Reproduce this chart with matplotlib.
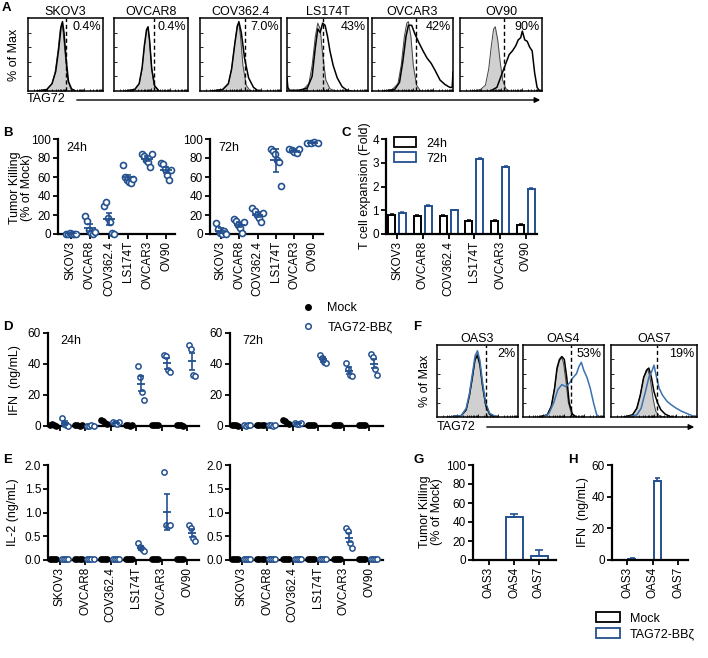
import numpy as np
import matplotlib
matplotlib.use("Agg")
import matplotlib.pyplot as plt
from matplotlib.patches import Patch
from matplotlib.lines import Line2D

plt.rcParams['font.family'] = ['Liberation Sans', 'DejaVu Sans']

W, H = 708, 658
BLUE = '#23508f'
FBLUE = '#3a72ad'
GREY = '#d0d0d0'

# ---------------- data ----------------
cell_lines = ['SKOV3', 'OVCAR8', 'COV362.4', 'LS174T', 'OVCAR3', 'OV90']

# A: flow histograms (normalised channel, % of max)
a_pct = ['0.4%', '0.4%', '7.0%', '43%', '42%', '90%']
a_gate = [0.50, 0.54, 0.55, 0.44, 0.54, 0.54]
a_iso_x = [
    [0.12, 0.25, 0.32, 0.36, 0.40, 0.43, 0.45, 0.47, 0.50, 0.53, 0.57, 0.62],
    [0.15, 0.28, 0.34, 0.38, 0.41, 0.44, 0.46, 0.48, 0.51, 0.54, 0.60],
    [0.15, 0.28, 0.35, 0.39, 0.43, 0.46, 0.48, 0.50, 0.53, 0.57, 0.62],
    [0.10, 0.20, 0.27, 0.31, 0.35, 0.38, 0.41, 0.44, 0.48, 0.53, 0.60],
    [0.15, 0.25, 0.32, 0.36, 0.40, 0.43, 0.45, 0.48, 0.51, 0.55, 0.60],
    [0.15, 0.25, 0.31, 0.35, 0.38, 0.41, 0.43, 0.46, 0.49, 0.52, 0.56, 0.60],
]
a_iso_y = [
    [0, 0.02, 0.10, 0.25, 0.55, 0.85, 0.93, 0.80, 0.45, 0.15, 0.03, 0],
    [0, 0.02, 0.10, 0.30, 0.60, 0.83, 0.86, 0.70, 0.30, 0.08, 0],
    [0, 0.02, 0.10, 0.30, 0.65, 0.90, 0.93, 0.75, 0.35, 0.08, 0],
    [0, 0.02, 0.10, 0.35, 0.75, 0.93, 0.85, 0.50, 0.15, 0.03, 0],
    [0, 0.02, 0.10, 0.35, 0.75, 0.93, 0.95, 0.75, 0.35, 0.08, 0],
    [0, 0.02, 0.08, 0.30, 0.60, 0.85, 0.88, 0.70, 0.40, 0.15, 0.03, 0],
]
a_tag_x = [
    [0.12, 0.25, 0.32, 0.37, 0.41, 0.44, 0.46, 0.48, 0.51, 0.54, 0.58, 0.63],
    [0.15, 0.28, 0.34, 0.38, 0.41, 0.44, 0.46, 0.48, 0.51, 0.55, 0.61],
    [0.15, 0.28, 0.35, 0.39, 0.43, 0.46, 0.48, 0.51, 0.55, 0.60, 0.66, 0.72],
    [0.0, 0.01, 0.03, 0.15, 0.25, 0.31, 0.35, 0.38, 0.41, 0.44, 0.47, 0.50,
     0.53, 0.57, 0.62, 0.68, 0.74, 0.80],
    [0.15, 0.28, 0.34, 0.38, 0.42, 0.45, 0.49, 0.53, 0.58, 0.63, 0.68, 0.73,
     0.78, 0.84, 0.90, 0.96, 0.99, 1.0],
    [0.37, 0.45, 0.50, 0.55, 0.60, 0.64, 0.68, 0.71, 0.74, 0.76, 0.79, 0.82,
     0.85, 0.88, 0.91, 0.94, 0.97],
]
a_tag_y = [
    [0, 0.02, 0.10, 0.27, 0.58, 0.87, 0.95, 0.80, 0.42, 0.13, 0.03, 0],
    [0, 0.02, 0.10, 0.32, 0.62, 0.84, 0.88, 0.70, 0.30, 0.07, 0],
    [0, 0.02, 0.10, 0.30, 0.65, 0.88, 0.95, 0.80, 0.45, 0.18, 0.05, 0],
    [0.18, 0.05, 0.01, 0.01, 0.04, 0.20, 0.60, 0.85, 0.80, 0.93, 0.90, 0.75,
     0.55, 0.35, 0.18, 0.06, 0.01, 0],
    [0, 0.02, 0.12, 0.40, 0.75, 0.90, 0.90, 0.78, 0.66, 0.55, 0.45, 0.38,
     0.28, 0.15, 0.09, 0.05, 0.05, 0.26],
    [0, 0.05, 0.20, 0.35, 0.50, 0.55, 0.62, 0.70, 0.73, 0.82, 0.70, 0.68,
     0.60, 0.55, 0.25, 0.05, 0],
]

# B: tumour killing (% of mock)
b24_points = [
    [0, 0, 1, 0, 0, 0.5],
    [19, 14, 4, 1, 0, 2],
    [30, 34, 17, 13, 1, 0],
    [73, 60, 57, 55, 54, 58],
    [84, 82, 78, 76, 71, 84],
    [75, 74, 68, 62, 57, 67],
]
b24_err = [0.5, 3.5, 6, 3, 2.5, 3]
b72_points = [
    [12, 5, 1, 0, 3, 0],
    [16, 14, 9, 6, 1, 13],
    [27, 24, 20, 17, 13, 22],
    [89, 87, 84, 78, 76, 51],
    [90, 88, 86, 85, 89],
    [96, 96, 97, 96],
]
b72_err = [2.5, 2.5, 2.5, 12, 1.5, 0.5]

# C: T cell expansion (fold)
c_24 = [0.80, 0.75, 0.77, 0.55, 0.54, 0.40]
c_24_err = [0.04, 0.05, 0.03, 0.03, 0.03, 0.03]
c_72 = [0.90, 1.20, 1.00, 3.15, 2.84, 1.88]
c_72_err = [0.03, 0.03, 0.03, 0.06, 0.03, 0.04]

# D: IFN (ng/mL)
d24_mock = [[0.5, 1.0, 0.5, 0.3], [0.5, 0.8, 0.3, 0.5], [4.0, 3.0, 2.0, 1.5],
            [0.5, 0.5, 0.3, 0.6], [0.5, 0.7, 0.4, 0.5], [0.4, 0.5, 0.6, 0.3]]
d24_car = [[5.0, 1.5, 0.5, 0.0], [0.3, 0.2, 0.4, 0.3], [2.5, 2.0, 1.5, 2.8],
           [38.7, 31.6, 22.0, 17.0], [46.0, 45.0, 36.0, 35.0], [52.0, 50.0, 33.0, 32.0]]
d24_err = [1.2, 0, 0.3, 5.0, 3.5, 5.3]
d72_mock = [[0.5, 0.4, 0.6, 0.3], [0.5, 0.6, 0.4, 0.5], [4.0, 3.0, 2.0, 1.0],
            [0.5, 0.4, 0.6, 0.5], [0.5, 0.6, 0.4, 0.5], [0.5, 0.4, 0.6, 0.5]]
d72_car = [[0.5, 0.3, 0.6, 0.4], [0.4, 0.5, 0.3, 0.4], [2.0, 1.5, 1.0, 2.0],
           [46.0, 44.0, 41.5, 40.5], [40.5, 37.0, 33.0, 32.5], [46.5, 44.5, 37.0, 33.0]]
d72_err = [0, 0, 0.3, 1.5, 2.0, 3.0]

# E: IL-2 (ng/mL)
e24_mock = [[0.02, 0.02, 0.02, 0.02]] * 6
e24_car = [[0.02, 0.02, 0.02, 0.02], [0.02, 0.02, 0.02, 0.02],
           [0.02, 0.02, 0.02, 0.02], [0.35, 0.28, 0.23, 0.18],
           [1.86, 0.74, 0.72, 0.73], [0.74, 0.67, 0.46, 0.39]]
e24_err = [0, 0, 0, 0.04, 0.38, 0.08]
e72_mock = [[0.02, 0.02, 0.02, 0.02]] * 6
e72_car = [[0.02, 0.02, 0.02, 0.02], [0.02, 0.02, 0.02, 0.02],
           [0.02, 0.02, 0.02, 0.02], [0.02, 0.02, 0.02, 0.02],
           [0.67, 0.62, 0.35, 0.25], [0.02, 0.02, 0.02, 0.02]]
e72_err = [0, 0, 0, 0, 0.1, 0]

# F: OAS lines histograms
f_names = ['OAS3', 'OAS4', 'OAS7']
f_pct = ['2%', '53%', '19%']
f_gate = [0.60, 0.59, 0.53]
f_iso_x = [
    [0.15, 0.30, 0.36, 0.40, 0.44, 0.47, 0.50, 0.53, 0.56, 0.60, 0.65, 0.72],
    [0.20, 0.30, 0.35, 0.39, 0.42, 0.45, 0.48, 0.50, 0.53, 0.56, 0.60, 0.65],
    [0.15, 0.25, 0.30, 0.34, 0.38, 0.41, 0.43, 0.46, 0.49, 0.52, 0.56, 0.62],
]
f_iso_y = [
    [0, 0.02, 0.10, 0.28, 0.55, 0.80, 0.89, 0.75, 0.45, 0.15, 0.03, 0],
    [0, 0.03, 0.15, 0.40, 0.65, 0.78, 0.82, 0.75, 0.50, 0.20, 0.04, 0],
    [0, 0.03, 0.12, 0.30, 0.55, 0.65, 0.66, 0.50, 0.25, 0.08, 0.02, 0],
]
f_mock_x = [
    [0.15, 0.30, 0.36, 0.40, 0.44, 0.47, 0.50, 0.53, 0.56, 0.60, 0.65, 0.72],
    [0.20, 0.30, 0.35, 0.39, 0.42, 0.45, 0.48, 0.51, 0.54, 0.57, 0.61, 0.66],
    [0.15, 0.25, 0.30, 0.34, 0.38, 0.42, 0.44, 0.47, 0.50, 0.54, 0.58, 0.63, 0.70],
]
f_mock_y = [
    [0, 0.02, 0.10, 0.30, 0.58, 0.80, 0.85, 0.72, 0.45, 0.18, 0.04, 0],
    [0, 0.03, 0.15, 0.40, 0.68, 0.80, 0.84, 0.80, 0.55, 0.20, 0.04, 0],
    [0, 0.03, 0.12, 0.30, 0.55, 0.66, 0.68, 0.55, 0.35, 0.20, 0.10, 0.04, 0],
]
f_car_x = [
    [0.15, 0.30, 0.36, 0.40, 0.44, 0.47, 0.50, 0.53, 0.56, 0.60, 0.65, 0.74],
    [0.25, 0.32, 0.38, 0.43, 0.48, 0.53, 0.58, 0.62, 0.66, 0.69, 0.72, 0.75,
     0.79, 0.83, 0.87, 0.91, 0.95],
    [0.20, 0.30, 0.35, 0.40, 0.44, 0.47, 0.50, 0.53, 0.56, 0.60, 0.65, 0.70,
     0.76, 0.82, 0.88, 0.94, 1.0],
]
f_car_y = [
    [0, 0.02, 0.12, 0.32, 0.62, 0.85, 0.92, 0.78, 0.50, 0.20, 0.05, 0],
    [0, 0.05, 0.20, 0.38, 0.45, 0.42, 0.48, 0.55, 0.60, 0.70, 0.76, 0.65,
     0.55, 0.40, 0.20, 0.03, 0],
    [0, 0.03, 0.12, 0.35, 0.55, 0.62, 0.72, 0.55, 0.40, 0.30, 0.22, 0.17,
     0.12, 0.08, 0.05, 0.02, 0],
]

# G / H: OAS lines
oas_lines = ['OAS3', 'OAS4', 'OAS7']
g_kill = [0, 45, 4]
g_err = [0, 3, 7]
h_mock = [0, 0, 0]
h_car = [0.8, 50, 0]
h_err = [0.4, 1.5, 0]

# ---------------- figure ----------------
fig = plt.figure(figsize=(W / 100, H / 100), dpi=100)


def px_axes(x0, y0, x1, y1):
    return fig.add_axes([x0 / W, 1 - y1 / H, (x1 - x0) / W, (y1 - y0) / H])


def ftext(x, y, s, **kw):
    fig.text(x / W, 1 - y / H, s, **kw)


def prism(ax):
    ax.spines[['top', 'right']].set_visible(False)
    ax.spines[['left', 'bottom']].set_linewidth(1.6)
    ax.tick_params(width=1.3, length=3.5, labelsize=8.5, pad=1.5)


def hist_box(ax, title, pct, gate, curves):
    ax.set_xlim(0, 1)
    ax.set_ylim(0, 1)
    for s in ax.spines.values():
        s.set_linewidth(1.1)
    ax.set_yticks([0.2, 0.4, 0.6, 0.8])
    major = [0.0, 0.25, 0.5, 0.75]
    minor = [d + 0.25 * np.log10(k) for d in major for k in range(2, 10)]
    ax.set_xticks(major[1:])
    ax.set_xticks(minor, minor=True)
    ax.tick_params(which='both', direction='in', length=2, width=0.6,
                   labelleft=False, labelbottom=False)
    ax.tick_params(which='minor', length=1.2)
    for x, y, kind in curves:
        if kind == 'iso':
            ax.fill_between(x, y, color=GREY, lw=0)
            ax.plot(x, y, color='#444444', lw=0.7)
        elif kind == 'black':
            ax.plot(x, y, color='black', lw=1.1)
        else:
            ax.plot(x, y, color=FBLUE, lw=1.1)
    ax.axvline(gate, color='black', ls=(0, (3, 2)), lw=1.0)
    ax.set_title(title, fontsize=9, pad=2)
    ax.text(0.97, 0.88, pct, ha='right', va='center', fontsize=9,
            transform=ax.transAxes)


# ---- A ----
a_boxes = [(28, 103), (114, 188), (200, 281), (287, 368), (372, 453), (460, 542)]
for i, (x0, x1) in enumerate(a_boxes):
    ax = px_axes(x0, 18, x1, 91)
    hist_box(ax, cell_lines[i], a_pct[i], a_gate[i],
             [(a_iso_x[i], a_iso_y[i], 'iso'), (a_tag_x[i], a_tag_y[i], 'black')])
ftext(14, 55, '% of Max', rotation=90, ha='center', va='center', fontsize=9)
ftext(27, 99, 'TAG72', ha='left', va='center', fontsize=9)
fig.add_artist(matplotlib.patches.FancyArrowPatch(
    (74 / W, 1 - 100 / H), (543 / W, 1 - 100 / H), transform=fig.transFigure,
    arrowstyle='-|>', mutation_scale=8, lw=1.0, color='black'))


# ---- B ----
def kill_panel(ax, points, err, tag, labels):
    for i, vals in enumerate(points):
        vals = np.array(vals, dtype=float)
        offs = np.linspace(-0.28, 0.28, len(vals))
        ax.plot(i + offs, vals, 'o', ms=4.3, mfc='white', mec=BLUE, mew=1.2,
                ls='', clip_on=False, zorder=4)
        m = vals.mean()
        ax.hlines(m, i - 0.3, i + 0.3, color=BLUE, lw=1.3, zorder=5)
        ax.errorbar(i, m, yerr=err[i], color=BLUE, capsize=2.3, lw=1.2,
                    capthick=1.2, zorder=5)
    ax.set_ylim(0, 100)
    ax.set_yticks(range(0, 101, 20))
    ax.set_xticks(range(6))
    ax.set_xticklabels(labels, rotation=90)
    ax.text(0.07, 0.97, tag, transform=ax.transAxes, fontsize=9, va='top')
    prism(ax)


ax = px_axes(58, 139, 175, 234)
ax.set_xlim(-0.68, 5.47)
kill_panel(ax, b24_points, b24_err, '24h', cell_lines)
ax = px_axes(210, 139, 323, 234)
ax.set_xlim(-0.6, 5.57)
kill_panel(ax, b72_points, b72_err, '72h', cell_lines)
ftext(21, 188, 'Tumor Killing\n(% of Mock)', rotation=90, ha='center',
      va='center', fontsize=9, linespacing=1.1)

# ---- C ----
ax = px_axes(386, 139, 537, 234)
x = np.arange(6)
ax.bar(x - 0.21, c_24, width=0.27, facecolor='white', edgecolor='black', lw=1.4,
       yerr=[np.zeros(6), c_24_err], error_kw=dict(ecolor='black', lw=1.1,
                                                   capsize=1.5, capthick=1.1))
ax.bar(x + 0.21, c_72, width=0.27, facecolor='white', edgecolor=BLUE, lw=1.4,
       yerr=[np.zeros(6), c_72_err], error_kw=dict(ecolor=BLUE, lw=1.1,
                                                   capsize=1.5, capthick=1.1))
ax.set_xlim(-0.43, 5.43)
ax.set_ylim(0, 4)
ax.set_yticks(range(5))
ax.set_xticks(x)
ax.set_xticklabels(cell_lines, rotation=90)
prism(ax)
ax.legend([Patch(fc='white', ec='black', lw=1.3), Patch(fc='white', ec=BLUE, lw=1.3)],
          ['24h', '72h'], loc='upper left', bbox_to_anchor=(0.05, 1.02),
          frameon=False, fontsize=9, handlelength=1.8, handleheight=0.9,
          handletextpad=0.8, labelspacing=0.2, borderaxespad=0, borderpad=0)
ftext(365, 186, 'T cell expansion (Fold)', rotation=90, ha='center', va='center',
      fontsize=9)


# ---- D / E ----
def dot_panel(ax, mock, car, err, show_labels):
    offs = np.array([-0.12, -0.04, 0.04, 0.12])
    for i in range(6):
        m = np.array(mock[i], dtype=float)
        c = np.array(car[i], dtype=float)
        ax.plot(i - 0.27 + offs[:len(m)], m, 'o', ms=3.8, color='black', ls='',
                clip_on=False, zorder=3)
        ax.plot(i + 0.2 + offs[:len(c)], c, 'o', ms=3.8, mfc='white', mec=BLUE,
                mew=1.1, ls='', clip_on=False, zorder=4)
        if err[i] > 0:
            mean = c.mean()
            ax.hlines(mean, i + 0.2 - 0.16, i + 0.2 + 0.16, color=BLUE, lw=1.3,
                      zorder=5)
            ax.errorbar(i + 0.2, mean, yerr=err[i], color=BLUE, capsize=2.0,
                        lw=1.2, capthick=1.2, zorder=5)
    ax.set_xticks(range(6))
    if show_labels:
        ax.set_xticklabels(cell_lines, rotation=90)
    else:
        ax.set_xticklabels([])
    prism(ax)


for (x0, x1, xl, mock, car, err, tag) in [
        (48, 199, (-0.47, 5.47), d24_mock, d24_car, d24_err, '24h'),
        (230, 383, (-0.47, 5.55), d72_mock, d72_car, d72_err, '72h')]:
    ax = px_axes(x0, 333, x1, 426)
    dot_panel(ax, mock, car, err, False)
    ax.set_xlim(*xl)
    ax.set_ylim(0, 60)
    ax.set_yticks([0, 20, 40, 60])
    ax.text(0.08, 0.98, tag, transform=ax.transAxes, fontsize=9, va='top')

for (x0, x1, xl, mock, car, err) in [
        (48, 199, (-0.47, 5.47), e24_mock, e24_car, e24_err),
        (230, 383, (-0.47, 5.55), e72_mock, e72_car, e72_err)]:
    ax = px_axes(x0, 465, x1, 560)
    dot_panel(ax, mock, car, err, True)
    ax.set_xlim(*xl)
    ax.set_ylim(0, 2.0)
    ax.set_yticks([0, 0.5, 1.0, 1.5, 2.0])
    ax.set_yticklabels(['0.0', '0.5', '1.0', '1.5', '2.0'])

ftext(15, 380, 'IFN  (ng/mL)', rotation=90, ha='center', va='center', fontsize=9)
ftext(13, 512, 'IL-2 (ng/mL)', rotation=90, ha='center', va='center', fontsize=9)
fig.legend([Line2D([], [], marker='o', ls='', color='black', ms=4),
            Line2D([], [], marker='o', ls='', mfc='white', mec=BLUE, mew=1.1, ms=4)],
           ['Mock', 'TAG72-BBζ'], loc='upper left',
           bbox_to_anchor=(300 / W, 1 - 302 / H), frameon=False, fontsize=9,
           handlelength=1.2, handletextpad=1.0, labelspacing=0.6,
           borderaxespad=0, borderpad=0)

# ---- F ----
f_boxes = [(437, 518), (523, 604), (611, 697)]
for i, (x0, x1) in enumerate(f_boxes):
    ax = px_axes(x0, 345, x1, 417)
    hist_box(ax, f_names[i], f_pct[i], f_gate[i],
             [(f_iso_x[i], f_iso_y[i], 'iso'), (f_mock_x[i], f_mock_y[i], 'black'),
              (f_car_x[i], f_car_y[i], 'blue')])
ftext(425, 381, '% of Max', rotation=90, ha='center', va='center', fontsize=9)
ftext(437, 427, 'TAG72', ha='left', va='center', fontsize=9)
fig.add_artist(matplotlib.patches.FancyArrowPatch(
    (484 / W, 1 - 427 / H), (697 / W, 1 - 427 / H), transform=fig.transFigure,
    arrowstyle='-|>', mutation_scale=8, lw=1.0, color='black'))

# ---- G ----
ax = px_axes(473, 465, 556, 560)
xo = np.arange(3)
ax.bar(xo, g_kill, width=0.68, facecolor='white', edgecolor=BLUE, lw=1.4,
       yerr=[np.zeros(3), g_err], error_kw=dict(ecolor=BLUE, lw=1.2,
                                                capsize=3, capthick=1.2))
ax.set_xlim(-0.64, 2.68)
ax.set_ylim(0, 100)
ax.set_yticks(range(0, 101, 20))
ax.set_xticks(xo)
ax.set_xticklabels(oas_lines, rotation=90)
prism(ax)
ftext(431, 512, 'Tumor Killing\n(% of Mock)', rotation=90, ha='center',
      va='center', fontsize=9, linespacing=1.1)

# ---- H ----
ax = px_axes(612, 465, 688, 560)
ax.bar(xo - 0.18, h_mock, width=0.28, facecolor='white', edgecolor='black', lw=1.4)
ax.bar(xo + 0.18, h_car, width=0.28, facecolor='white', edgecolor=BLUE, lw=1.4,
       yerr=[np.zeros(3), h_err], error_kw=dict(ecolor=BLUE, lw=1.2,
                                                capsize=1.8, capthick=1.2))
ax.set_xlim(-0.59, 2.39)
ax.set_ylim(0, 60)
ax.set_yticks([0, 20, 40, 60])
ax.set_xticks(xo)
ax.set_xticklabels(oas_lines, rotation=90)
prism(ax)
ftext(583, 512, 'IFN  (ng/mL)', rotation=90, ha='center', va='center', fontsize=9)

fig.legend([Patch(fc='white', ec='black', lw=1.3), Patch(fc='white', ec=BLUE, lw=1.3)],
           ['Mock', 'TAG72-BBζ'], loc='upper left',
           bbox_to_anchor=(596 / W, 1 - 612 / H), frameon=False, fontsize=9,
           handlelength=1.9, handleheight=0.9, handletextpad=0.8,
           labelspacing=0.25, borderaxespad=0, borderpad=0)

# ---- panel letters ----
for s, (px, py) in {'A': (2, 8), 'B': (3, 133), 'C': (341, 133), 'D': (3, 327),
                    'E': (3, 460), 'F': (413, 327), 'G': (413, 460),
                    'H': (568, 460)}.items():
    ftext(px, py, s, fontsize=9.5, fontweight='bold', ha='left', va='center')

fig.savefig('out.png', dpi=100)
